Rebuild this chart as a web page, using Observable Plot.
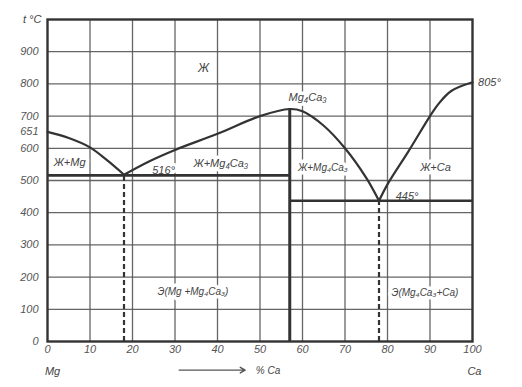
<!DOCTYPE html>
<html>
<head>
<meta charset="utf-8">
<script src="https://cdn.jsdelivr.net/npm/d3@7"></script>
<script src="https://cdn.jsdelivr.net/npm/@observablehq/plot@0.6"></script>
<style>
  body { margin: 0; background: #fff; }
</style>
</head>
<body>
<div id="chart"></div>
<script>
// ---- data (x = % Ca, t = °C) ----
const xTicks = [0, 10, 20, 30, 40, 50, 60, 70, 80, 90, 100];
const yTicks = [0, 100, 200, 300, 400, 500, 600, 651, 700, 800, 900];
const xGrid = [10, 20, 30, 40, 50, 60, 70, 80, 90];
const yGrid = [100, 200, 300, 400, 500, 600, 700, 800, 900];

// liquidus branch Mg -> eutectic 1
const liqMgX = [0, 5, 10, 14, 18];
const liqMgT = [651, 632, 603, 563, 518];
// liquidus of compound Mg4Ca3 (eutectic 1 -> maximum -> eutectic 2)
const liqCmpX = [18, 24, 30, 40, 50, 57, 60, 65, 70, 75, 78];
const liqCmpT = [518, 560, 595, 645, 700, 722, 715, 670, 600, 508, 437];
// liquidus branch eutectic 2 -> Ca
const liqCaX = [78, 80, 85, 90, 92, 95, 100];
const liqCaT = [437, 488, 592, 700, 738, 778, 805];

// invariant lines
const eut1X = 18, eut1T = 516;
const eut2X = 78, eut2T = 437;
const cmpX = 57, cmpT = 722;

// text labels
const labels = [
  {x: 36.7, t: 848, text: "Ж", size: 12},
  {x: 5.2, t: 556, text: "Ж+Mg", size: 11},
  {x: 27.3, t: 531, text: "516°", size: 11},
  {x: 40.8, t: 553, text: "Ж+Mg₄Ca₃", size: 11},
  {x: 61.2, t: 758, text: "Mg₄Ca₃", size: 11},
  {x: 64.8, t: 540, text: "Ж+Mg₄Ca₃", size: 10},
  {x: 91.3, t: 540, text: "Ж+Ca", size: 11},
  {x: 84.6, t: 450, text: "445°", size: 11},
  {x: 34.2, t: 155, text: "Э(Mg +Mg₄Ca₃)", size: 10},
  {x: 88.8, t: 152, text: "Э(Mg₄Ca₃+Ca)", size: 10}
];
const label805 = {x: 101.3, t: 804, text: "805°"};
const unitLabel = {x: -3.6, t: 1000, text: "t °C"};
const endLabels = [
  {x: -0.6, t: -92, text: "Mg"},
  {x: 98.8, t: -92, text: "Ca"}
];
const arrowSpec = {x1: 31, x2: 46.5, t: -89};
const arrowText = {x: 49, t: -91, text: "% Ca"};

const toPts = (xs, ts) => xs.map((x, i) => ({x, t: ts[i]}));

const ink = "#333";
const grid = "#555";

const chart = Plot.plot({
  width: 522,
  height: 387,
  marginLeft: 47,
  marginRight: 50,
  marginTop: 19,
  marginBottom: 46,
  x: {domain: [0, 100], label: null},
  y: {domain: [0, 1000], label: null},
  style: {fontFamily: "Liberation Sans, Arial, sans-serif", fontStyle: "italic", fontSize: "11px", color: "#555", background: "#fff"},
  marks: [
    Plot.ruleX(xGrid, {y1: 0, y2: 1000, stroke: grid, strokeWidth: 1.3, strokeOpacity: 0.9}),
    Plot.ruleY(yGrid, {x1: 0, x2: 100, stroke: grid, strokeWidth: 1.3, strokeOpacity: 0.9}),
    // labels with white halo (they interrupt the grid)
    Plot.text(labels, {x: "x", y: "t", text: "text", fontSize: "size", fill: "#444", stroke: "white", strokeWidth: 7, paintOrder: "stroke", fontStyle: "italic"}),
    // invariant horizontals
    Plot.ruleY([eut1T], {x1: 0, x2: cmpX, stroke: ink, strokeWidth: 2.6}),
    Plot.ruleY([eut2T], {x1: cmpX, x2: 100, stroke: ink, strokeWidth: 2.6}),
    // compound vertical
    Plot.ruleX([cmpX], {y1: 0, y2: cmpT, stroke: ink, strokeWidth: 3}),
    // dashed eutectic verticals
    Plot.ruleX([eut1X], {y1: 0, y2: eut1T, stroke: ink, strokeWidth: 2.2, strokeDasharray: "5,3"}),
    Plot.ruleX([eut2X], {y1: 0, y2: eut2T, stroke: ink, strokeWidth: 2.2, strokeDasharray: "5,3"}),
    // liquidus curves
    Plot.line(toPts(liqMgX, liqMgT), {x: "x", y: "t", stroke: ink, strokeWidth: 2.2, curve: "catmull-rom"}),
    Plot.line(toPts(liqCmpX, liqCmpT), {x: "x", y: "t", stroke: ink, strokeWidth: 2.2, curve: "catmull-rom"}),
    Plot.line(toPts(liqCaX, liqCaT), {x: "x", y: "t", stroke: ink, strokeWidth: 2.2, curve: "catmull-rom"}),
    Plot.frame({stroke: ink, strokeWidth: 2.4}),
    // axes
    Plot.axisX({ticks: xTicks, tickSize: 0, tickPadding: 4, fontSize: 11, fill: "#555", fontStyle: "italic", label: null}),
    Plot.axisY({ticks: yTicks, tickSize: 0, tickPadding: 9, fontSize: 11, fill: "#555", fontStyle: "italic", label: null}),
    Plot.text([label805], {x: "x", y: "t", text: "text", textAnchor: "start", fill: "#444", fontSize: 11}),
    Plot.text([unitLabel], {x: "x", y: "t", text: "text", textAnchor: "middle", fill: "#444", fontSize: 11}),
    Plot.text(endLabels, {x: "x", y: "t", text: "text", textAnchor: "start", fill: "#444", fontSize: 11}),
    Plot.arrow([arrowSpec], {x1: "x1", x2: "x2", y1: "t", y2: "t", stroke: "#555", strokeWidth: 1.4, headLength: 6, clip: false}),
    Plot.text([arrowText], {x: "x", y: "t", text: "text", textAnchor: "start", fill: "#444", fontSize: 10})
  ]
});
document.getElementById("chart").append(chart);
</script>
</body>
</html>
